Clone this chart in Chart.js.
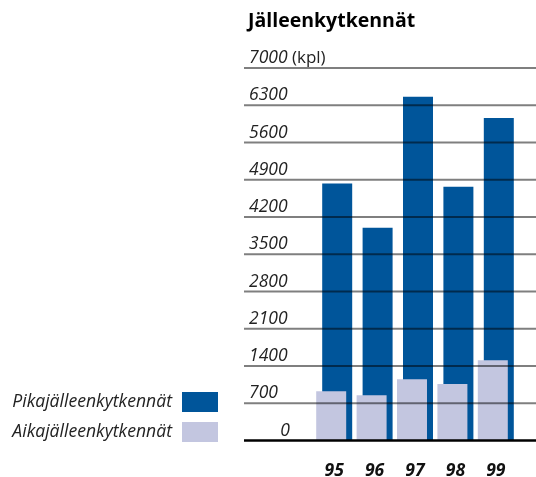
<!DOCTYPE html>
<html>
<head>
<meta charset="utf-8">
<script src="https://cdn.jsdelivr.net/npm/chart.js@4"></script>
<style>
  body { margin: 0; background: #fff; font-family: "Open Sans", sans-serif; }
  #wrap { position: relative; width: 536px; height: 477px; }
  #chart { position: absolute; left: 0; top: 0; }
  #title { position: absolute; left: 248px; top: 6px; font-weight: bold; font-size: 19.5px; color: #000; }
  .leg { position: absolute; right: 318px; font-style: italic; font-size: 17.6px; color: #222; white-space: nowrap; }
  .leg span { display: inline-block; width: 36px; height: 20px; vertical-align: middle; margin-left: 10px; }
</style>
</head>
<body>
<div id="wrap">
  <canvas id="chart" width="536" height="477"></canvas>
  <div id="title">Jälleenkytkennät</div>
  <div class="leg" style="top:388px">Pikajälleenkytkennät<span style="background:#00559a"></span></div>
  <div class="leg" style="top:418px">Aikajälleenkytkennät<span style="background:#c3c6e0"></span></div>
</div>
<script>
// vuodet ja arvot (kpl)
var years = ["95", "96", "97", "98", "99"];
var pika = [4830, 4000, 6460, 4770, 6060];
var aika = [925, 850, 1150, 1060, 1510];
var yTicks = [0, 700, 1400, 2100, 2800, 3500, 4200, 4900, 5600, 6300, 7000];

// gridlines + y labels across the whole width
var gridPlugin = {
    id: "grid",
    afterDatasetsDraw: function (chart) {
        var ctx = chart.ctx;
        var y = chart.scales.y;
        ctx.save();
        for (var i = 0; i < yTicks.length; i++) {
            var py = y.getPixelForValue(yTicks[i]);
            ctx.beginPath();
            if (yTicks[i] === 0) {
                ctx.strokeStyle = "#000";
                ctx.lineWidth = 2.5;
            } else {
                ctx.strokeStyle = "rgba(0,0,0,0.5)";
                ctx.lineWidth = 2;
            }
            ctx.moveTo(244, py);
            ctx.lineTo(536, py);
            ctx.stroke();

            ctx.fillStyle = "#222";
            ctx.font = "italic 17.5px 'Open Sans'";
            ctx.textBaseline = "alphabetic";
            var label = String(yTicks[i]);
            if (yTicks[i] === 0) {
                ctx.textAlign = "right";
                ctx.fillText(label, 290, py - 5);
            } else {
                ctx.textAlign = "left";
                ctx.fillText(label, 249, py - 5);
            }
            if (yTicks[i] === 7000) {
                var w = ctx.measureText(label).width;
                ctx.font = "17px 'Open Sans'";
                ctx.fillText(" (kpl)", 249 + w, py - 5);
            }
        }
        ctx.restore();
    }
};

new Chart("chart", {
    type: "bar",
    data: {
        labels: years,
        datasets: [{
            label: "Aikajälleenkytkennät",
            data: aika,
            backgroundColor: "#c3c6e0"
        }, {
            label: "Pikajälleenkytkennät",
            data: pika,
            backgroundColor: "#00559a"
        }]
    },
    options: {
        responsive: false,
        animation: false,
        categoryPercentage: 0.297,
        barPercentage: 5,
        layout: { padding: { left: 314, right: 20, top: 68, bottom: -25 } },
        plugins: {
            legend: { display: false },
            tooltip: { enabled: false }
        },
        scales: {
            x: {
                grid: { display: false, drawTicks: false },
                border: { display: false },
                ticks: {
                    color: "#111",
                    padding: 22,
                    font: { family: "Open Sans", size: 17.5, weight: "bold", style: "italic", lineHeight: 1 }
                }
            },
            y: {
                display: false,
                min: 0,
                max: 7000
            }
        }
    },
    plugins: [gridPlugin]
});
</script>
</body>
</html>
